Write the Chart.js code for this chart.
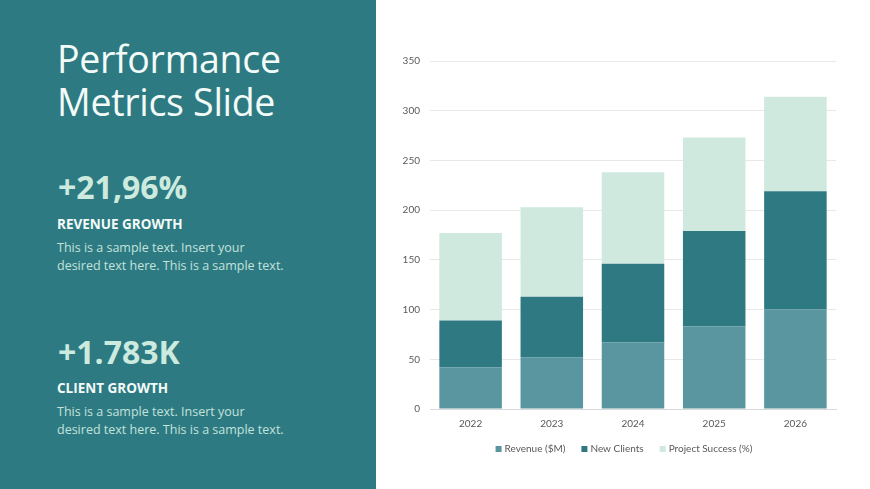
<!DOCTYPE html>
<html>
<head>
<meta charset="utf-8">
<script src="https://cdn.jsdelivr.net/npm/chart.js@4.4.0/dist/chart.umd.min.js"></script>
<style>
  html, body { margin:0; padding:0; width:870px; height:489px; overflow:hidden; background:#ffffff; }
  #left { position:absolute; left:0; top:0; width:376px; height:489px; background:#2e7a82; }
  .title { position:absolute; left:57px; top:37px; color:#f3fbf8; font-family:"Open Sans","Noto Sans",sans-serif; font-weight:400; font-size:37.5px; line-height:43px; letter-spacing:-0.3px; }
  .big { position:absolute; left:58px; color:#cdeadf; font-family:"Open Sans","Noto Sans",sans-serif; font-weight:700; font-size:32px; line-height:36px; }
  .lab { position:absolute; left:57px; color:#f3fbf8; font-family:"Open Sans","Noto Sans",sans-serif; font-weight:700; font-size:13.5px; line-height:18px; }
  .txt { position:absolute; left:57px; color:#c3e2dc; font-family:"Open Sans","Noto Sans",sans-serif; font-weight:400; font-size:12.5px; line-height:18px; }
  #wrap { position:absolute; left:390px; top:45px; width:462px; height:427px; }
</style>
</head>
<body>
<div id="left">
  <div class="title">Performance<br>Metrics Slide</div>
  <div class="big" style="top:169px;">+21,96%</div>
  <div class="lab" style="top:215px;">REVENUE GROWTH</div>
  <div class="txt" style="top:239px;">This is a sample text. Insert your<br>desired text here. This is a sample text.</div>
  <div class="big" style="top:334px;">+1.783K</div>
  <div class="lab" style="top:379px;">CLIENT GROWTH</div>
  <div class="txt" style="top:403px;">This is a sample text. Insert your<br>desired text here. This is a sample text.</div>
</div>
<div id="wrap"><canvas id="c"></canvas></div>
<script>
const categories = ["2022", "2023", "2024", "2025", "2026"];
const revenue = [42, 52, 67, 83, 100];
const newClients = [47, 61, 79, 96, 119];
const projectSuccess = [88, 90, 92, 94, 95];
const seriesNames = ["Revenue ($M)", "New Clients", "Project Success (%)"];

const font = "Lato, 'Noto Sans', sans-serif";

// Legend drawn from the chart's own datasets (labels + colours), with wider item spacing
const bottomLegend = {
  id: 'bottomLegend',
  afterDraw(chart) {
    const ctx = chart.ctx;
    const box = 6, gapBox = 3, gapItem = 16;
    ctx.save();
    ctx.font = "10px " + font;
    ctx.textBaseline = 'middle';
    ctx.textAlign = 'left';
    const items = chart.data.datasets.map(d => ({ text: d.label, color: d.backgroundColor, w: ctx.measureText(d.label).width }));
    const total = items.reduce((s, it) => s + box + gapBox + it.w, 0) + gapItem * (items.length - 1);
    let x = chart.width / 2 + 3 - total / 2;
    const y = chart.chartArea.bottom + 40;
    items.forEach(it => {
      ctx.fillStyle = it.color;
      ctx.fillRect(x, y - box / 2, box, box);
      ctx.fillStyle = '#595959';
      ctx.fillText(it.text, x + box + gapBox, y);
      x += box + gapBox + it.w + gapItem;
    });
    ctx.restore();
  }
};

new Chart(document.getElementById('c'), {
  type: 'bar',
  data: {
    labels: categories,
    datasets: [
      { label: seriesNames[0], data: revenue, backgroundColor: '#5a96a0' },
      { label: seriesNames[1], data: newClients, backgroundColor: '#2f7982' },
      { label: seriesNames[2], data: projectSuccess, backgroundColor: '#cfe9df' }
    ]
  },
  plugins: [bottomLegend],
  options: {
    responsive: true,
    maintainAspectRatio: false,
    animation: false,
    datasets: { bar: { barPercentage: 0.77, categoryPercentage: 1.0 } },
    layout: { padding: { top: 3, right: 16, bottom: 33, left: 0 } },
    plugins: {
      legend: { display: false },
      tooltip: { enabled: false }
    },
    scales: {
      x: {
        stacked: true,
        grid: { display: false, drawTicks: false },
        border: { display: true, color: '#d9d9d9' },
        ticks: { color: '#595959', padding: 9, font: { family: font, size: 10 } }
      },
      y: {
        stacked: true,
        min: 0, max: 350,
        ticks: { stepSize: 50, color: '#595959', padding: 10, font: { family: font, size: 10 } },
        grid: { color: '#e8e8e8', drawTicks: false },
        border: { display: false },
        afterFit: (s) => { s.width = 40; }
      }
    }
  }
});
</script>
</body>
</html>
